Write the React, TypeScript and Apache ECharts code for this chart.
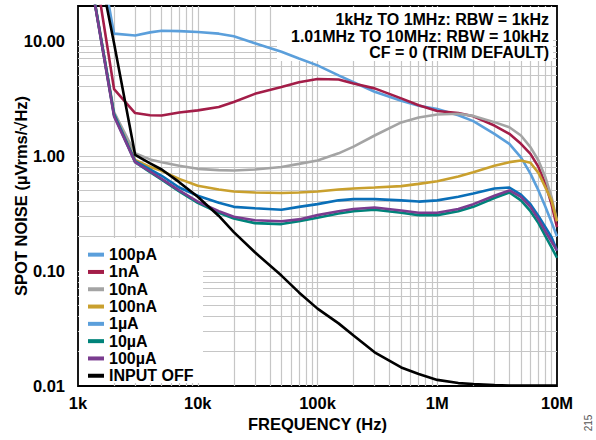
import React, { useEffect, useRef } from 'react';
import * as echarts from 'echarts';

// Frequency points (Hz)
const freqHz = [1e3, 2e3, 3e3, 4e3, 5e3, 7e3, 1e4, 1.5e4, 2e4, 3e4, 5e4, 7e4, 1e5, 1.5e5, 2e5, 3e5, 5e5, 7e5, 1e6, 1.5e6, 2e6, 3e6, 4e6, 5e6, 6e6, 7e6, 8e6, 9e6, 1e7];

// Spot noise (µVrms/√Hz) per input current
const noise100pA = [600, 11.5, 11.1, 11.8, 12.2, 12.1, 11.9, 11.5, 10.9, 9.5, 8.0, 7.0, 6.1, 5.0, 4.35, 3.6, 3.0, 2.72, 2.55, 2.25, 2.0, 1.55, 1.27, 0.97, 0.7, 0.5, 0.36, 0.265, 0.2];
const noise1nA = [360, 3.8, 2.35, 2.25, 2.24, 2.38, 2.48, 2.65, 2.93, 3.45, 3.95, 4.35, 4.65, 4.6, 4.25, 3.85, 3.15, 2.75, 2.45, 2.35, 2.2, 1.83, 1.55, 1.27, 1.04, 0.8, 0.57, 0.38, 0.24];
const noise10nA = [150, 2.4, 1.05, 0.93, 0.88, 0.82, 0.77, 0.75, 0.745, 0.76, 0.8, 0.85, 0.91, 1.05, 1.2, 1.5, 1.95, 2.15, 2.28, 2.32, 2.22, 1.96, 1.77, 1.5, 1.19, 0.91, 0.65, 0.44, 0.27];
const noise100nA = [150, 2.3, 0.92, 0.8, 0.74, 0.63, 0.55, 0.51, 0.49, 0.48, 0.475, 0.48, 0.49, 0.51, 0.52, 0.53, 0.545, 0.57, 0.6, 0.66, 0.72, 0.82, 0.88, 0.91, 0.87, 0.71, 0.53, 0.41, 0.27];
const noise1uA = [150, 2.3, 0.9, 0.76, 0.67, 0.53, 0.45, 0.39, 0.36, 0.35, 0.34, 0.36, 0.38, 0.41, 0.42, 0.42, 0.41, 0.4, 0.41, 0.44, 0.47, 0.52, 0.53, 0.46, 0.38, 0.3, 0.24, 0.196, 0.15];
const noise10uA = [150, 2.25, 0.88, 0.72, 0.62, 0.49, 0.39, 0.32, 0.285, 0.26, 0.255, 0.27, 0.29, 0.315, 0.33, 0.34, 0.32, 0.305, 0.305, 0.33, 0.36, 0.43, 0.48, 0.41, 0.33, 0.26, 0.2, 0.16, 0.13];
const noise100uA = [150, 2.2, 0.88, 0.73, 0.63, 0.5, 0.4, 0.33, 0.295, 0.275, 0.27, 0.28, 0.305, 0.33, 0.345, 0.355, 0.335, 0.32, 0.32, 0.345, 0.38, 0.45, 0.5, 0.44, 0.36, 0.28, 0.22, 0.18, 0.15];
const noiseInputOff = [360, 9.5, 1.02, 0.86, 0.76, 0.59, 0.44, 0.3, 0.217, 0.145, 0.091, 0.065, 0.047, 0.035, 0.0275, 0.0196, 0.0145, 0.0127, 0.0113, 0.0106, 0.0104, 0.0102, 0.0101, 0.0101, 0.0101, 0.0101, 0.0101, 0.0101, 0.0101];

const seriesNames = ['100pA', '1nA', '10nA', '100nA', '1µA', '10µA', '100µA', 'INPUT OFF'];
const seriesValues = [noise100pA, noise1nA, noise10nA, noise100nA, noise1uA, noise10uA, noise100uA, noiseInputOff];
const seriesColors = ['#5b9fdb', '#a31d48', '#a4a4a4', '#c9a02e', '#0a6fb8', '#00837a', '#7a3c8f', '#000000'];
const legendColors = ['#5b9fdb', '#a31d48', '#a4a4a4', '#c9a02e', '#5b9fdb', '#00837a', '#7a3c8f', '#000000'];

// Tick labels
const xTickLabels: Record<string, string> = { '3': '1k', '4': '10k', '5': '100k', '6': '1M', '7': '10M' };
const yTickLabels: Record<string, string> = { '-2': '0.01', '-1': '0.10', '0': '1.00', '1': '10.00' };

// Minor grid positions (log decades)
const minorSteps = [2, 3, 4, 5, 6, 7, 8, 9];
const xDecades = [1e3, 1e4, 1e5, 1e6];
const yDecades = [0.01, 0.1, 1];

const annotationLines = ['1kHz TO 1MHz: RBW = 1kHz', '1.01MHz TO 10MHz: RBW = 10kHz', 'CF = 0 (TRIM DEFAULT)'];

const FONT = '"Liberation Sans", Arial, Helvetica, sans-serif';
const GRID_COLOR = '#c6c6c6';

function decadeLabel(v: number, map: Record<string, string>) {
  const e = Math.log10(v);
  const r = Math.round(e);
  if (Math.abs(e - r) > 1e-6) return '';
  return map[String(r)] ?? '';
}

export default function App() {
  const ref = useRef<HTMLDivElement>(null);
  useEffect(() => {
    if (!ref.current) return;
    const chart = echarts.init(ref.current, undefined, { renderer: 'svg' });

    const minorX: any[] = [];
    xDecades.forEach((d) => minorSteps.forEach((s) => minorX.push({ xAxis: d * s })));
    const minorY: any[] = [];
    yDecades.forEach((d) => minorSteps.forEach((s) => minorY.push({ yAxis: +(d * s).toPrecision(6) })));

    const curveSeries = seriesNames.map((name, i) => ({
      type: 'line',
      name,
      data: freqHz.map((f, j) => [f, seriesValues[i][j]]),
      showSymbol: false,
      symbol: 'none',
      clip: true,
      silent: true,
      z: 3,
      emphasis: { disabled: true },
      lineStyle: { width: 2.6, color: seriesColors[i] },
      itemStyle: { color: seriesColors[i] },
    }));

    const gridSeries = {
      type: 'line',
      name: '__grid',
      data: [],
      silent: true,
      z: 1,
      markLine: {
        silent: true,
        z: 1,
        symbol: ['none', 'none'],
        label: { show: false },
        emphasis: { disabled: true },
        animation: false,
        lineStyle: { type: 'solid', color: GRID_COLOR, width: 1.2 },
        data: [...minorX, ...minorY],
      },
    };

    const axisLabelStyle = { fontFamily: FONT, fontSize: 16.5, fontWeight: 'bold', color: '#000' };

    chart.setOption({
      animation: false,
      grid: {
        left: 78, right: 39, top: 6, bottom: 54,
        show: true, borderColor: '#000', borderWidth: 1.8, backgroundColor: 'transparent',
        containLabel: false, outerBoundsMode: 'none',
      },
      xAxis: {
        type: 'log',
        logBase: 10,
        min: 1e3,
        max: 1e7,
        interval: 1,
        name: 'FREQUENCY (Hz)',
        nameLocation: 'middle',
        nameGap: 29,
        nameMoveOverlap: false,
        nameTextStyle: { ...axisLabelStyle },
        axisLine: { show: false },
        axisTick: { show: false },
        axisLabel: { ...axisLabelStyle, margin: 8, formatter: (v: number) => decadeLabel(v, xTickLabels) },
        splitLine: { show: true, showMinLine: false, showMaxLine: false, lineStyle: { color: GRID_COLOR, width: 1.2 } },
      },
      yAxis: {
        type: 'log',
        logBase: 10,
        min: 0.01,
        max: 20,
        interval: 1,
        name: 'SPOT NOISE (µVrms/√Hz)',
        nameLocation: 'middle',
        nameGap: 49,
        nameRotate: 90,
        nameMoveOverlap: false,
        nameTextStyle: { ...axisLabelStyle },
        axisLine: { show: false },
        axisTick: { show: false },
        axisLabel: { ...axisLabelStyle, margin: 13, showMaxLabel: false, formatter: (v: number) => decadeLabel(v, yTickLabels) },
        splitLine: { show: true, showMinLine: false, showMaxLine: false, lineStyle: { color: GRID_COLOR, width: 1.2 } },
      },
      legend: {
        orient: 'vertical',
        left: 88,
        top: 246,
        padding: 0,
        itemWidth: 16,
        itemHeight: 4,
        itemGap: 0,
        icon: 'rect',
        selectedMode: false,
        z: 6,
        textStyle: { fontFamily: FONT, fontSize: 16, fontWeight: 'bold', color: '#000', lineHeight: 17.3 },
        data: seriesNames.map((n, i) => ({ name: n, icon: 'rect', itemStyle: { color: legendColors[i] } })),
      },
      graphic: {
        elements: [
          { type: 'rect', silent: true, z: 2, shape: { x: 79, y: 238, width: 124, height: 145 }, style: { fill: '#ffffff' } },
          { type: 'rect', silent: true, z: 2, shape: { x: 277, y: 7, width: 276, height: 54 }, style: { fill: '#ffffff' } },
          ...annotationLines.map((t, i) => ({
            type: 'text',
            silent: true,
            z: 6,
            x: 549,
            y: 19.5 + i * 16.6,
            style: { text: t, align: 'right', verticalAlign: 'middle', textAlign: 'right', textVerticalAlign: 'middle', fontFamily: FONT, fontSize: 16, fontWeight: 'bold', fill: '#000' },
          })),
          {
            type: 'text',
            silent: true,
            z: 6,
            x: 588,
            y: 423,
            rotation: Math.PI / 2,
            style: { text: '215', align: 'center', verticalAlign: 'middle', textAlign: 'center', textVerticalAlign: 'middle', fontFamily: FONT, fontSize: 10, fill: '#555' },
          },
        ],
      },
      series: [gridSeries, ...curveSeries],
    });

    return () => chart.dispose();
  }, []);

  return <div ref={ref} style={{ position: 'fixed', left: 0, top: 0, width: 596, height: 440, background: '#fff' }} />;
}
